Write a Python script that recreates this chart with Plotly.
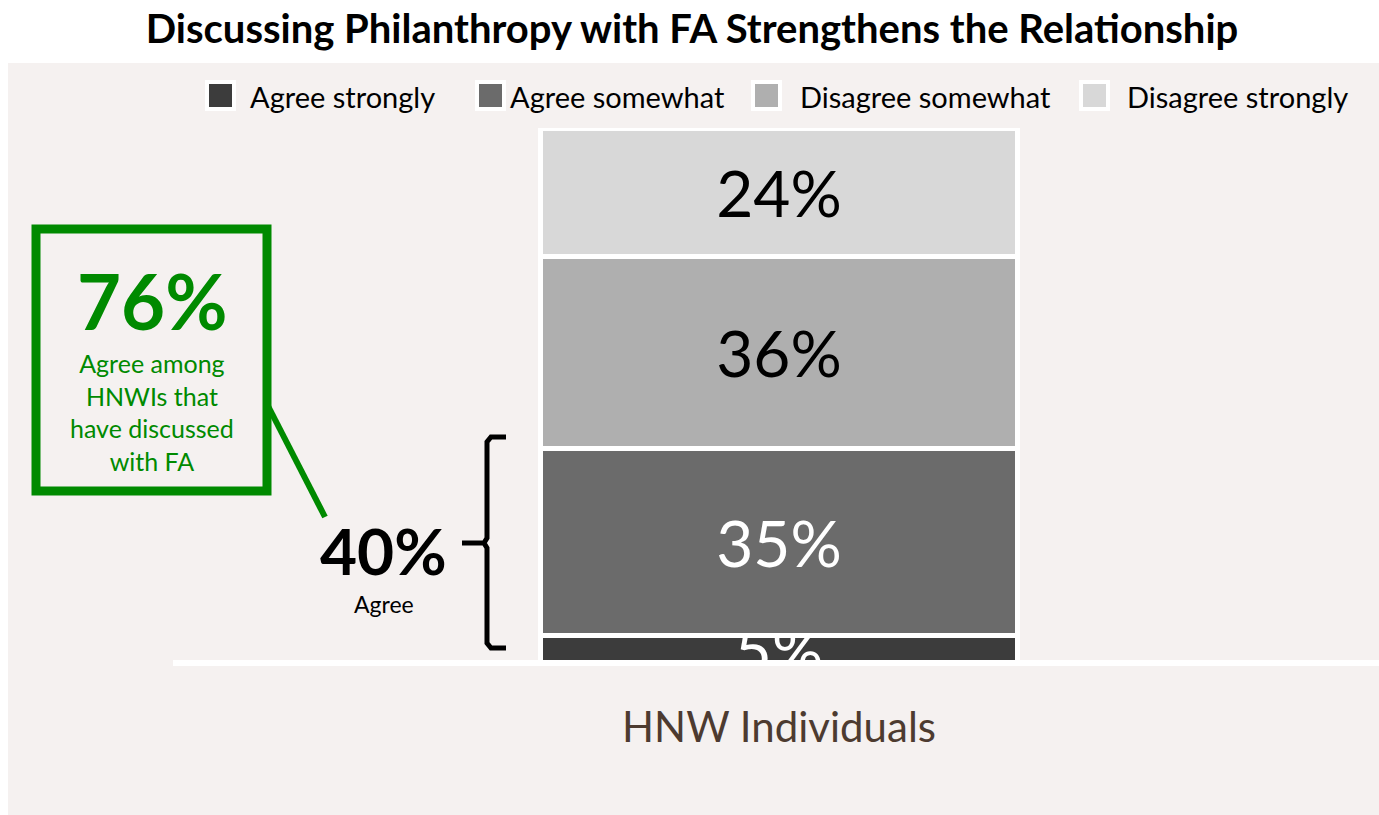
import plotly.graph_objects as go

# data
categories = ['HNW Individuals']
series = ['Agree strongly', 'Agree somewhat', 'Disagree somewhat', 'Disagree strongly']
values = [5, 35, 36, 24]
colors = ['#3c3c3c', '#6b6b6b', '#afafaf', '#d8d8d8']
text_colors = ['white', 'white', 'black', 'black']

callout_value = '76%'
callout_text = 'Agree among<br>HNWIs that<br>have discussed<br>with FA'
agree_total = '40%'

W, H = 1379, 815
L, R, T, B = 173, 0, 128, 815 - 660
GREEN = '#008a00'
FONT = 'Lato'


def px(x):
    # window pixel -> paper x
    return (x - L) / (W - L - R)


def py(y):
    # window pixel -> paper y
    return (H - B - y) / (H - T - B)


fig = go.Figure()
for name, v, c, tc in zip(series, values, colors, text_colors):
    fig.add_trace(go.Bar(
        x=categories, y=[v], name=name,
        marker=dict(color=c, line=dict(color='white', width=5)),
        width=0.396,
        text=[f'{v}%'], textposition='inside', insidetextanchor='middle',
        constraintext='none', cliponaxis=True,
        textfont=dict(family=FONT, size=64, color=tc),
        hoverinfo='skip', showlegend=False,
    ))

shapes = [
    # pale background panel
    dict(type='rect', xref='paper', yref='paper', x0=px(8), x1=px(1379), y0=py(815), y1=py(63),
         fillcolor='#f5f1f0', line=dict(width=0), layer='below'),
    # green callout box
    dict(type='rect', xref='paper', yref='paper', x0=px(36), x1=px(267), y0=py(491), y1=py(229),
         line=dict(color=GREEN, width=9)),
    dict(type='line', xref='paper', yref='paper', x0=px(266), y0=py(402), x1=px(325), y1=py(517),
         line=dict(color=GREEN, width=6)),
]

# bracket
pts = [(506, 437), (491, 437), (487, 442), (487, 538), (484, 543), (462, 543),
       (484, 543), (487, 548), (487, 643), (491, 648), (506, 648)]
path = 'M ' + ' L '.join(f'{px(a):.5f},{py(b):.5f}' for a, b in pts)
shapes.append(dict(type='path', xref='paper', yref='paper', path=path,
                   line=dict(color='black', width=5)))

annotations = [
    dict(xref='paper', yref='paper', x=px(152), y=py(300), xanchor='center', yanchor='middle',
         text=f'<b>{callout_value}</b>', showarrow=False,
         font=dict(family=FONT, size=76, color=GREEN)),
    dict(xref='paper', yref='paper', x=px(152), y=py(412), xanchor='center', yanchor='middle',
         text=callout_text, showarrow=False,
         font=dict(family=FONT, size=25, color=GREEN)),
    dict(xref='paper', yref='paper', x=px(383), y=py(550), xanchor='center', yanchor='middle',
         text=f'<b>{agree_total}</b>', showarrow=False,
         font=dict(family=FONT, size=64, color='black')),
    dict(xref='paper', yref='paper', x=px(384), y=py(604), xanchor='center', yanchor='middle',
         text='Agree', showarrow=False,
         font=dict(family=FONT, size=23, color='black')),
]

# legend: swatches and labels built from the series lists
swatch_x = [207, 477, 753, 1081]
label_x = [248, 508, 798, 1125]
for name, c, sx, lx in zip(series, colors, swatch_x, label_x):
    shapes.append(dict(type='rect', xref='paper', yref='paper',
                       x0=px(sx), x1=px(sx + 27), y0=py(109), y1=py(82),
                       fillcolor=c, line=dict(color='white', width=4)))
    annotations.append(dict(xref='paper', yref='paper', x=px(lx), y=py(97),
                            xanchor='left', yanchor='middle', text=name, showarrow=False,
                            font=dict(family=FONT, size=29, color='black')))

fig.update_layout(
    width=W, height=H,
    margin=dict(l=L, r=R, t=T, b=B),
    barmode='stack',
    paper_bgcolor='white',
    plot_bgcolor='rgba(0,0,0,0)',
    title=dict(text='<b>Discussing Philanthropy with FA Strengthens the Relationship</b>',
               x=692 / W, xanchor='center', y=1 - 29 / H, yanchor='middle',
               font=dict(family=FONT, size=40, color='black')),
    xaxis=dict(range=[-0.5025, 0.4975], showline=True, linecolor='white', linewidth=6,
               showgrid=False, ticks='', ticklabelstandoff=26,
               tickfont=dict(family=FONT, size=42, color='#4d3b30')),
    yaxis=dict(range=[0.5, 100], visible=False, showgrid=False),
    shapes=shapes,
    annotations=annotations,
    showlegend=False,
)

# drop the default page margin so the figure fills the window exactly
fig.write_html('out.html', config={'displayModeBar': False},
               post_script="document.body.style.margin='0';")
